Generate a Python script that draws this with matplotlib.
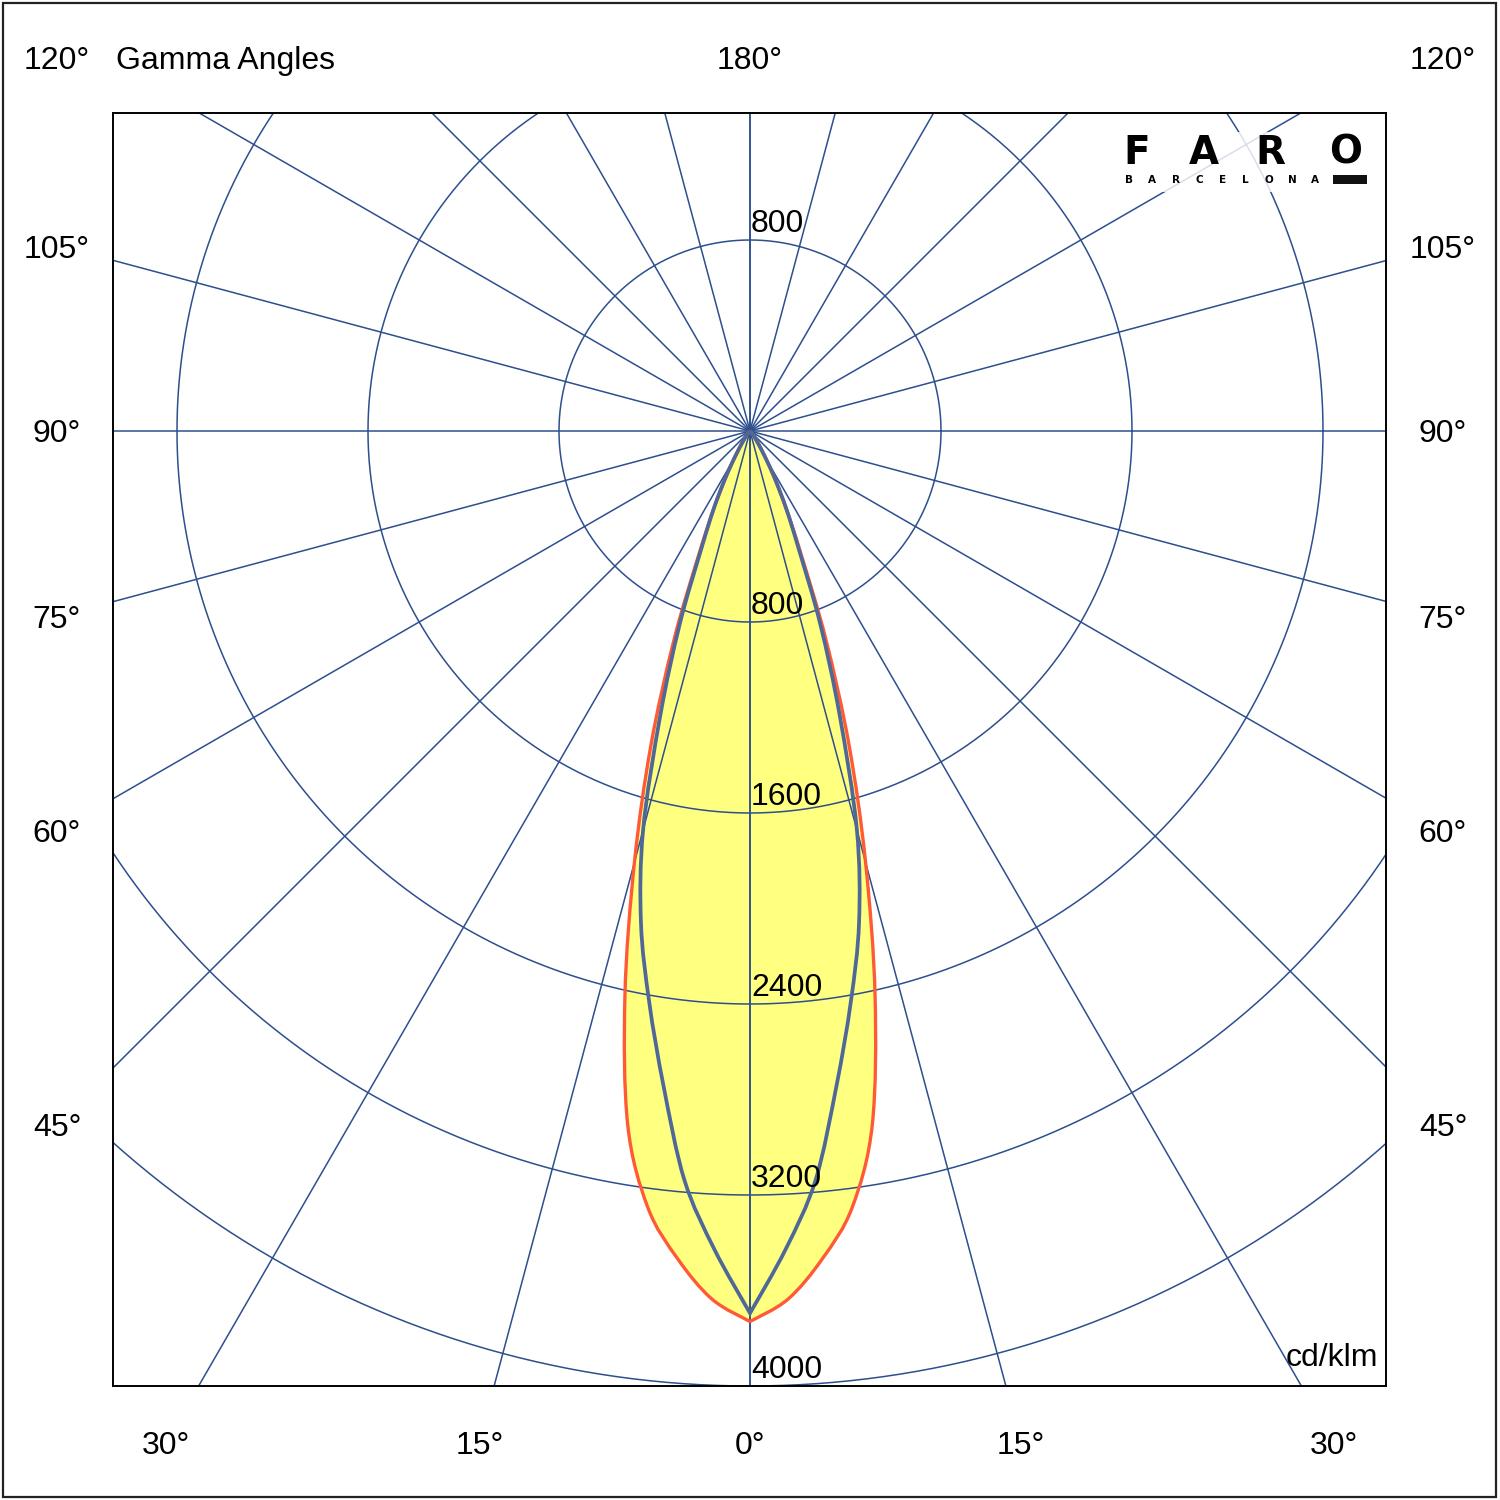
import numpy as np
import matplotlib
matplotlib.use("Agg")
import matplotlib.pyplot as plt
from matplotlib.patches import Rectangle, PathPatch
from matplotlib.path import Path

# ---------------- data ----------------
gamma_deg = [0, 2.5, 5, 7.5, 10, 12.5, 15, 17.5, 20, 22.5, 25, 27.5, 30, 35, 40, 45]
c0_c180 = [3730, 3640, 3480, 3280, 2950, 2420, 1870, 1380, 930, 560, 360, 220, 130, 50, 15, 0]
c90_c270 = [3695, 3430, 3150, 2770, 2430, 2110, 1730, 1250, 860, 530, 360, 230, 130, 45, 12, 0]
ring_values = [800, 1600, 2400, 3200, 4000]
spoke_angles = list(range(0, 181, 15))
side_labels = ["120°", "105°", "90°", "75°", "60°", "45°"]
bottom_labels = ["30°", "15°", "0°", "15°", "30°"]

GRID = "#2d4f8e"
YELLOW = "#ffff80"
RED = "#ff5a36"
BLUE = "#4f6898"
FONT = "Liberation Sans"
FS = 23

W = 1500
fig = plt.figure(figsize=(15, 15), dpi=100)
fig.patch.set_facecolor("white")

# axes square: pixels 113..1386 both directions, centre at (750, 431)
px = 800 / 191.0  # cd per pixel
ax = fig.add_axes([113 / W, (W - 1386) / W, 1273 / W, 1273 / W])
ax.set_xlim(-637 * px, 636 * px)
ax.set_ylim(-955 * px, 318 * px)
ax.set_aspect("equal")
ax.set_xticks([])
ax.set_yticks([])
for s in ax.spines.values():
    s.set_linewidth(1.4)
    s.set_color("black")
    s.set_zorder(10)


def to_xy(g, i, side):
    g = np.radians(np.asarray(g, dtype=float))
    i = np.asarray(i, dtype=float)
    return side * i * np.sin(g), -i * np.cos(g)


def smooth_half(pts):
    """Bezier (Catmull-Rom) vertices through pts, without the initial MOVETO."""
    verts = []
    n = len(pts)
    for i in range(n - 1):
        p0 = pts[max(i - 1, 0)]
        p1 = pts[i]
        p2 = pts[i + 1]
        p3 = pts[min(i + 2, n - 1)]
        c1 = p1 + (p2 - p0) / 6.0
        c2 = p2 - (p3 - p1) / 6.0
        verts += [c1, c2, p2]
    return verts


def curve_path(vals, closed=False):
    xr, yr = to_xy(gamma_deg, vals, 1)
    xl, yl = to_xy(gamma_deg, vals, -1)
    left = np.column_stack([xl[::-1], yl[::-1]])   # centre -> 0 deg
    right = np.column_stack([xr, yr])             # 0 deg -> centre
    verts = [left[0]] + smooth_half(left) + smooth_half(right)
    codes = [Path.MOVETO] + [Path.CURVE4] * (len(verts) - 1)
    if closed:
        verts.append(left[0])
        codes.append(Path.CLOSEPOLY)
    return Path(np.array(verts), codes)

# fill of C0-C180
ax.add_patch(PathPatch(curve_path(c0_c180, closed=True), facecolor=YELLOW,
                       edgecolor="none", zorder=1))

# grid: circles
t = np.linspace(0, 2 * np.pi, 721)
for r in ring_values:
    ax.plot(r * np.cos(t), r * np.sin(t), color=GRID, lw=1.1, zorder=2)
# grid: spokes
for a in spoke_angles:
    for side in (1, -1):
        x, y = to_xy([0, a], [0, 8000], side)
        ax.plot(x, y, color=GRID, lw=1.1, zorder=2)

# curves
ax.add_patch(PathPatch(curve_path(c0_c180), facecolor="none", edgecolor=RED,
                       lw=2.4, zorder=3, joinstyle="round"))
ax.add_patch(PathPatch(curve_path(c90_c270), facecolor="none", edgecolor=BLUE,
                       lw=2.7, zorder=4, joinstyle="miter"))

# ring labels
lab_off = 16 * px
for r in ring_values:
    ax.text(1 * px, -r + lab_off, str(r), fontsize=FS, family=FONT,
            ha="left", va="center", zorder=6)
ax.text(1 * px, ring_values[0] + lab_off, str(ring_values[0]), fontsize=FS,
        family=FONT, ha="left", va="center", zorder=6)
ax.text(628 * px, -927 * px, "cd/klm", fontsize=FS, family=FONT,
        ha="right", va="center", zorder=6)


def fx(x):
    return x / W


def fy(y):
    return 1 - y / W

# logo (with translucent backing)
fig.patches.append(Rectangle((fx(1112), fy(192)), 264 / W, 60 / W,
                             transform=fig.transFigure, facecolor="white",
                             alpha=0.82, edgecolor="none", zorder=5))
for ch, xc in zip("FARO", [1137, 1204, 1270, 1346]):
    fig.text(fx(xc), fy(153), ch, fontsize=28, family="DejaVu Sans",
             weight="heavy", ha="center", va="center", zorder=6)
for k, ch in enumerate("BARCELONA"):
    fig.text(fx(1129 + k * 23.3), fy(180), ch, fontsize=7.5,
             family="DejaVu Sans", weight="bold", ha="center", va="center",
             zorder=6)
fig.patches.append(Rectangle((fx(1333), fy(184)), 34 / W, 9 / W,
                             transform=fig.transFigure, facecolor="#111111",
                             edgecolor="none", zorder=6))

# outer labels (y given as visual centre in pixels)
dy = 3
fig.text(fx(116), fy(58 + dy), "Gamma Angles", fontsize=FS, family=FONT,
         ha="left", va="center")
fig.text(fx(750), fy(58 + dy), "180°", fontsize=FS, family=FONT,
         ha="center", va="center")
side_y = [58, 247, 431, 617, 831, 1125]
for lab, y in zip(side_labels, side_y):
    fig.text(fx(57), fy(y + dy), lab, fontsize=FS, family=FONT, ha="center", va="center")
    fig.text(fx(1443), fy(y + dy), lab, fontsize=FS, family=FONT, ha="center", va="center")
bottom_x = [166, 480, 750, 1021, 1334]
for lab, x in zip(bottom_labels, bottom_x):
    fig.text(fx(x), fy(1443 + dy), lab, fontsize=FS, family=FONT, ha="center", va="center")

# outer border
fig.patches.append(Rectangle((fx(3), fy(1497)), 1493 / W, 1494 / W,
                             transform=fig.transFigure, facecolor="none",
                             edgecolor="#222222", linewidth=1.6, zorder=10))

fig.savefig("out.png", dpi=100, facecolor="white")
